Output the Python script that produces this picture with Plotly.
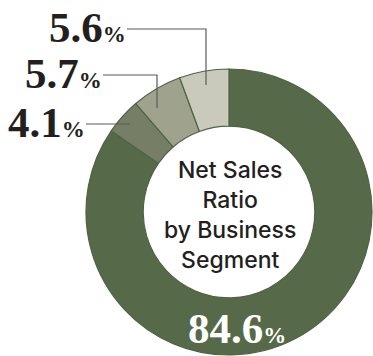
import plotly.graph_objects as go

# Net sales share by business segment (%), clockwise from 12 o'clock
segments = ["Segment A", "Segment B", "Segment C", "Segment D"]
shares = [84.6, 4.1, 5.7, 5.6]
slice_colors = ["#566a49", "#767f65", "#9fa38e", "#c9cabb"]

W, H = 373, 356


def px(x):
    return x / W


def py(y):
    return 1 - y / H


fig = go.Figure()
fig.add_trace(go.Pie(
    labels=segments,
    values=shares,
    sort=False,
    direction="clockwise",
    rotation=0,
    hole=0.60,
    marker=dict(colors=slice_colors, line=dict(color="#4f6343", width=1.2)),
    textinfo="none",
    hoverinfo="label+value",
    showlegend=False,
    domain=dict(x=[px(86), px(372)], y=[py(355), py(69)]),
))

SERIF = "Liberation Serif, Times New Roman, Times, serif"
label_font = dict(family=SERIF, size=43, color="#231f20", weight="bold")


def pct_text(v):
    return f"{v}<span style='font-size:23px'>%</span>"


# Outside labels with leader lines: (value index, label right edge x, line y, elbow x, line end y)
leaders = [
    (3, 126, 29, 206, 85),
    (2, 102, 75, 157, 108),
    (1, 85, 124, 130, 124),
]

annotations = []
shapes = []
for idx, lx, ly, ex, ey in leaders:
    annotations.append(dict(
        text=pct_text(shares[idx]), x=px(lx), y=py(ly - 2), xref="paper", yref="paper",
        xanchor="right", yanchor="middle", showarrow=False, font=label_font,
        borderpad=0, borderwidth=0,
    ))
    path = f"M {px(lx + 1)},{py(ly)} L {px(ex)},{py(ly)}"
    if ey != ly:
        path += f" L {px(ex)},{py(ey)}"
    shapes.append(dict(type="path", path=path, xref="paper", yref="paper",
                       line=dict(color="#5a5a5a", width=1.2)))

# Label inside the large slice
annotations.append(dict(
    text=pct_text(shares[0]), x=px(237), y=py(328), xref="paper", yref="paper",
    xanchor="center", yanchor="middle", showarrow=False,
    font=dict(family=SERIF, size=43, color="white", weight="bold"),
    borderpad=0, borderwidth=0,
))

# Title in the hole
annotations.append(dict(
    text="Net Sales<br>Ratio<br>by Business<br>Segment",
    x=px(230), y=py(215), xref="paper", yref="paper",
    xanchor="center", yanchor="middle", showarrow=False,
    font=dict(family="Inter", size=23, color="#231f20", weight=500),
    borderpad=0, borderwidth=0,
))

fig.update_layout(
    width=W, height=H,
    margin=dict(l=0, r=0, t=0, b=0),
    paper_bgcolor="white", plot_bgcolor="white",
    annotations=annotations, shapes=shapes,
)

fig.write_html("out.html", config={"displayModeBar": False})
